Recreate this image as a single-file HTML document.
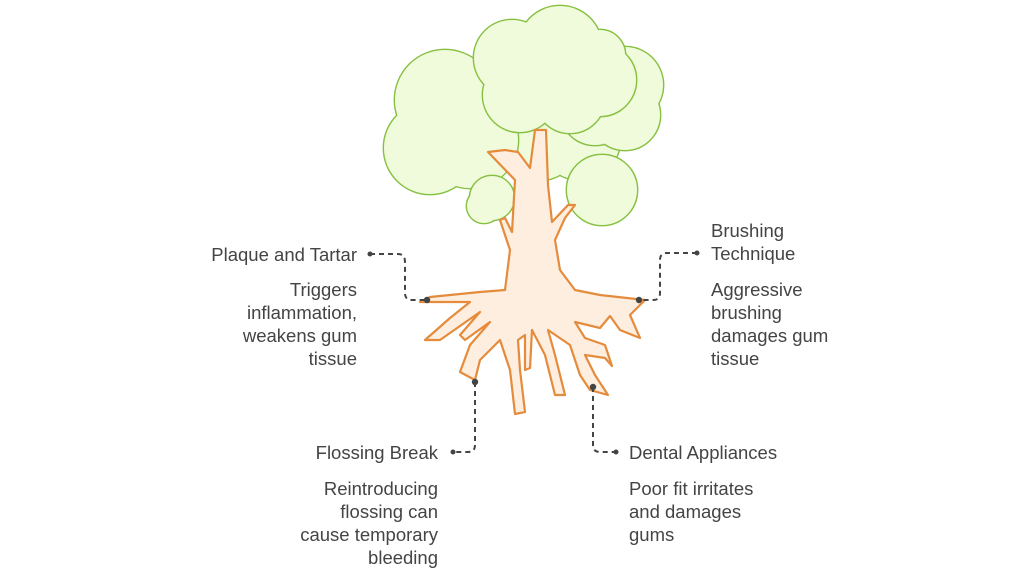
<!DOCTYPE html>
<html><head><meta charset="utf-8"><style>
body{margin:0;width:1024px;height:576px;background:#fff;overflow:hidden;position:relative;font-family:"Liberation Sans",sans-serif;color:#444}
.t{position:absolute;font-size:18.5px;line-height:23px}
</style></head><body>
<svg width="1024" height="576" style="position:absolute;left:0;top:0">
<defs>
<g id="back"><circle cx="540" cy="140" r="40"/><circle cx="580" cy="140" r="40"/></g>
<g id="rc"><circle cx="625" cy="85" r="38"/><circle cx="625" cy="115" r="35"/><circle cx="595" cy="110" r="35"/></g>
<g id="lc"><circle cx="445" cy="100" r="50"/><circle cx="430" cy="148" r="46"/><circle cx="470" cy="140" r="48"/><circle cx="490" cy="95" r="38"/></g>
<g id="cc"><circle cx="560" cy="48" r="42"/><circle cx="512" cy="58" r="38"/><circle cx="600" cy="80" r="36"/><circle cx="520" cy="95" r="37"/><circle cx="570" cy="98" r="35"/><circle cx="600" cy="55" r="25"/></g>
<g id="sl"><circle cx="492" cy="198" r="22"/><circle cx="484" cy="206" r="17"/></g>
<g id="sr"><circle cx="602" cy="190" r="35"/></g>
</defs>
<g stroke="#86c040" stroke-width="2.8" fill="#f0fbdc"><use href="#back"/></g><use href="#back" fill="#f0fbdc"/>
<g stroke="#86c040" stroke-width="2.8" fill="#f0fbdc"><use href="#rc"/></g><use href="#rc" fill="#f0fbdc"/>
<g stroke="#86c040" stroke-width="2.8" fill="#f0fbdc"><use href="#lc"/></g><use href="#lc" fill="#f0fbdc"/>
<g stroke="#86c040" stroke-width="2.8" fill="#f0fbdc"><use href="#cc"/></g><use href="#cc" fill="#f0fbdc"/>
<g stroke="#86c040" stroke-width="2.8" fill="#f0fbdc"><use href="#sl"/></g><use href="#sl" fill="#f0fbdc"/>
<g stroke="#86c040" stroke-width="2.8" fill="#f0fbdc"><use href="#sr"/></g><use href="#sr" fill="#f0fbdc"/>
<path d="M535 130 L530 168 L518 152 L505 150 L488 152 L515 180 L512 232 L505 218 L500 220 L510 250 L505 290 L480 292 L430 297 L420 302 L470 302 L450 318 L425 340 L440 340 L480 312 L460 335 L465 340 L490 322 L470 345 L460 372 L475 380 L480 360 L500 340 L510 370 L515 414 L525 412 L520 370 L518 340 L525 335 L525 370 L530 368 L532 330 L545 355 L555 395 L565 395 L555 355 L548 330 L570 345 L580 375 L590 390 L608 395 L595 375 L585 355 L605 358 L612 366 L605 345 L585 338 L575 322 L600 328 L610 316 L620 330 L640 338 L630 315 L645 300 L600 295 L575 290 L560 270 L555 240 L565 218 L575 205 L568 205 L552 222 L548 185 L546 130 Z" fill="#fdeee0" stroke="#e58b3c" stroke-width="2.2" stroke-linejoin="round"/>
<g fill="none" stroke="#444" stroke-width="2" stroke-dasharray="5,4">
<path d="M370 254 H398 Q405 254 405 262 V293 Q405 300 412 300 H427"/>
<path d="M697 253 H667 Q660 253 660 260 V293 Q660 300 653 300 H639"/>
<path d="M475 382 V445 Q475 452 468 452 H453"/>
<path d="M593 387 V445 Q593 452 600 452 H616"/>
</g>
<g fill="#444"><circle cx="370" cy="254" r="2.5"/><circle cx="427" cy="300" r="3.2"/><circle cx="697" cy="253" r="2.5"/><circle cx="639" cy="300" r="3.2"/><circle cx="475" cy="382" r="3.2"/><circle cx="453" cy="452" r="2.5"/><circle cx="593" cy="387" r="3.2"/><circle cx="616" cy="452" r="2.5"/></g>
</svg>
<div class="t" style="right:667px;top:243px;text-align:right">Plaque and Tartar</div>
<div class="t" style="right:667px;top:278px;text-align:right">Triggers<br>inflammation,<br>weakens gum<br>tissue</div>
<div class="t" style="left:711px;top:219px">Brushing<br>Technique</div>
<div class="t" style="left:711px;top:278px">Aggressive<br>brushing<br>damages gum<br>tissue</div>
<div class="t" style="right:586px;top:441px;text-align:right">Flossing Break</div>
<div class="t" style="right:586px;top:477px;text-align:right">Reintroducing<br>flossing can<br>cause temporary<br>bleeding</div>
<div class="t" style="left:629px;top:441px">Dental Appliances</div>
<div class="t" style="left:629px;top:477px">Poor fit irritates<br>and damages<br>gums</div>
</body></html>
